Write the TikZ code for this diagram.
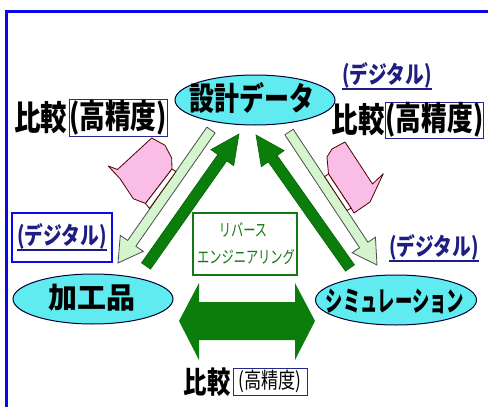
\documentclass[tikz,border=0pt]{standalone}
\usepackage{fontspec}
\usetikzlibrary{calc,shapes.geometric}
\newfontfamily\jpN{Noto Sans CJK JP}
\newfontfamily\jpC[FakeStretch=0.78]{Noto Sans CJK JP}
\newfontfamily\jpS[FakeStretch=0.62]{Noto Sans CJK JP}
\newfontfamily\jpT[FakeStretch=0.72]{Noto Sans CJK JP}
\newcommand\fsz[1]{\fontsize{#1}{#1}\selectfont}
\definecolor{framec}{RGB}{10,10,230}
\definecolor{navyc}{RGB}{30,30,130}
\definecolor{boxc}{RGB}{40,40,140}
\definecolor{darkg}{RGB}{10,125,10}
\definecolor{lightg}{RGB}{212,245,206}
\definecolor{pinkc}{RGB}{250,190,230}
\definecolor{cyanc}{RGB}{95,235,240}
\definecolor{textg}{RGB}{20,120,20}
\newcommand\blockarrow[7]{%
  \coordinate (#1c) at ($(#3)!#6!(#2)$);
  \path[#7] ($(#2)!#4!90:(#3)$) -- ($(#1c)!#4!90:(#3)$) -- ($(#1c)!#5!90:(#3)$) -- (#3)
    -- ($(#1c)!#5!-90:(#3)$) -- ($(#1c)!#4!-90:(#3)$) -- ($(#2)!#4!-90:(#3)$) -- cycle;}
\begin{document}
\begin{tikzpicture}[x=1pt,y=-1pt,
  ell/.style={ellipse,draw=black!80!blue,line width=1pt,fill=cyanc,inner sep=0pt,minimum width=160pt,minimum height=50pt},
  pinkst/.style={fill=pinkc,draw=black!70!red,line width=0.8pt,line join=round},
  stripst/.style={fill=white,draw=black!70!red,line width=0.8pt,line join=round},
  lightst/.style={fill=lightg,draw=black!70,line width=0.8pt},
  darkst/.style={fill=darkg,draw=darkg!80!black,line width=0.6pt},
  cmp/.style={inner sep=0pt,font=\jpC\bfseries\fsz{34}},
  hp/.style={draw=boxc,line width=0.8pt,inner sep=0pt,font=\jpC\bfseries\fsz{33}},
  dig/.style={inner sep=0pt,text=navyc,font=\jpC\bfseries\fsz{24}}]
\useasboundingbox (0,0) rectangle (488,407);
\fill[white] (0,0) rectangle (488,407);
\draw[framec,line width=3pt] (6,407) -- (6,11) -- (488,11);
% arrows
\coordinate (la1) at (211,130); \coordinate (la2) at (118,263);
\coordinate (ra1) at (289,132); \coordinate (ra2) at (377,265);
\coordinate (ld1) at (146,266); \coordinate (ld2) at (239,134);
\coordinate (rd1) at (350,268); \coordinate (rd2) at (256,135);
\blockarrow{la}{la1}{la2}{5pt}{14pt}{24pt}{lightst}
\blockarrow{ra}{ra1}{ra2}{5pt}{14pt}{24pt}{lightst}
\blockarrow{ld}{ld1}{ld2}{5.5pt}{14pt}{29pt}{darkst}
\blockarrow{rd}{rd1}{rd2}{5.5pt}{14pt}{29pt}{darkst}
% pink comparison arrows
\filldraw[pinkst] (151.7,138) -- (165,145.3) -- (171.7,158) -- (172,169) -- (145.5,203.5)
  -- (133.3,198.7) -- (120,178.7) -- (108.3,166) -- (117.5,169.5) -- cycle;
\filldraw[stripst] (172,169) -- (176,171.5) -- (149.5,208.5) -- (145.5,203.5) -- cycle;
\filldraw[pinkst] (327,157) -- (332,149) -- (345,142) -- (372.5,184) -- (383.3,173.7) -- (370,202)
  -- (354,213) -- (351,208) -- (328.5,174) -- cycle;
\filldraw[stripst] (328.5,174) -- (324.5,176.5) -- (347,210.5) -- (351,208) -- cycle;
% bottom double arrow
\coordinate (bl) at (179,321); \coordinate (br) at (315,321);
\fill[darkg] (bl) -- (199,283) -- (199,302) -- (295,302) -- (295,283) -- (br)
  -- (295,360) -- (295,340) -- (199,340) -- (199,360) -- cycle;
% ellipses
\node[ell] (design) at (255,100) {};
\node[inner sep=0pt,font=\jpC\bfseries\fsz{32}] (designt) at (252,98) {設計データ};
\node[ell] (work) at (93,299) {};
\node[inner sep=0pt,font=\jpN\bfseries\fsz{29}] (workt) at (92,298) {加工品};
\node[ell,minimum width=161pt] (sim) at (396,300) {};
\node[inner sep=0pt,font=\jpS\bfseries\fsz{28}] (simt) at (395,301) {シミュレーション};
% comparison labels
\node[cmp] (c1) at (41,118) {比較};
\node[hp,minimum width=98pt,minimum height=37pt] (h1) at (118,117.5) {(高精度)};
\node[cmp] (c2) at (358,120) {比較};
\node[hp,minimum width=97pt,minimum height=36pt] (h2) at (434.5,120) {(高精度)};
\node[cmp,font=\jpC\bfseries\fsz{30}] (c3) at (207,382) {比較};
\node[hp,font=\jpC\fsz{22},minimum width=74pt,minimum height=27pt] (h3) at (270,381.5) {(高精度)};
% digital labels
\node[dig] (d1) at (387,75) {(デジタル)};
\draw[navyc,line width=1.5pt] ([yshift=-1pt]d1.south west) -- ([yshift=-1pt]d1.south east);
\node[draw=framec,line width=2.5pt,minimum width=100pt,minimum height=49pt] (d2box) at (62,237.5) {};
\node[dig] (d2) at (62,236) {(デジタル)};
\draw[navyc,line width=1.5pt] ([yshift=-1pt]d2.south west) -- ([yshift=-1pt]d2.south east);
\node[dig] (d3) at (434,247) {(デジタル)};
\draw[navyc,line width=1.5pt] ([yshift=-1pt]d3.south west) -- ([yshift=-1pt]d3.south east);
% reverse engineering
\node[draw=textg,line width=2pt,minimum width=104pt,minimum height=62pt] (rev) at (245,244) {};
\node[inner sep=0pt,text=textg,font=\jpT\fsz{17}] (rev1) at (243,230) {リバース};
\node[inner sep=0pt,text=textg,font=\jpT\fsz{17}] (rev2) at (246,257) {エンジニアリング};
\end{tikzpicture}
\end{document}
